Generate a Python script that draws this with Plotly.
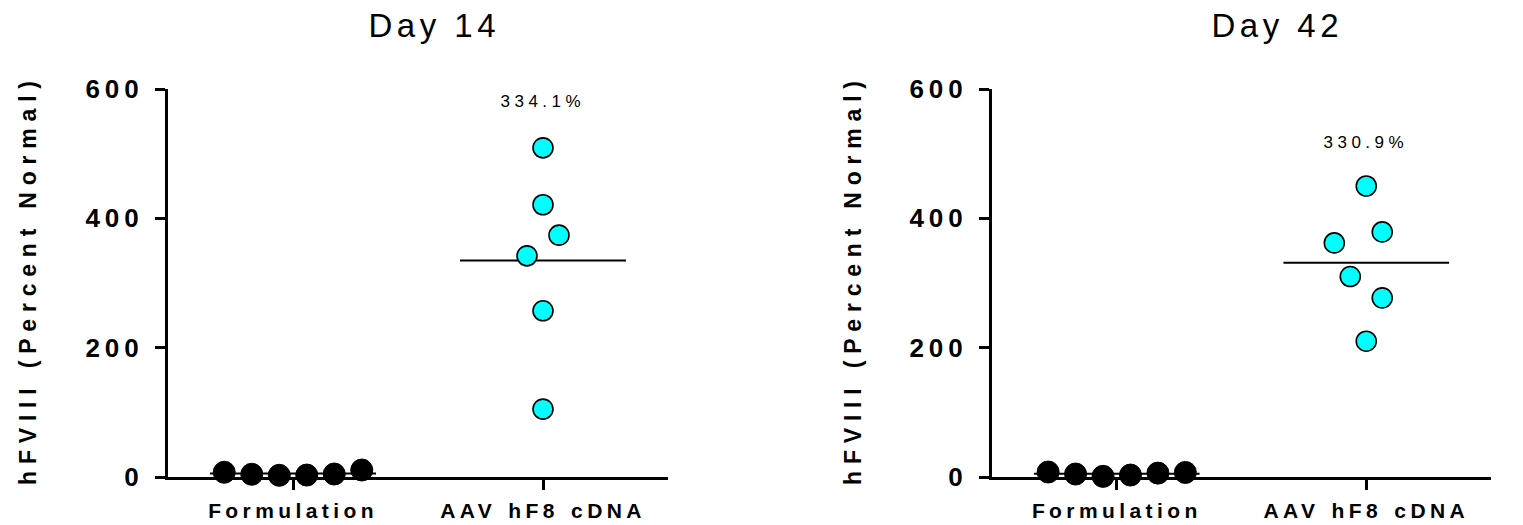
import plotly.graph_objects as go

# ---- data ----
categories = ["Formulation", "AAV hF8 cDNA"]
panel_titles = ["Day 14", "Day 42"]
y_title = "hFVIII (Percent Normal)"
y_ticks = [0, 200, 400, 600]

d14_formulation = [7.3, 4.2, 2.6, 3.0, 4.6, 10.8]
d14_aav = [509, 421, 374, 342, 257, 105]
d42_formulation = [7.7, 4.6, 1.0, 3.0, 6.0, 7.0]
d42_aav = [450, 379, 362, 310, 277, 210]
mean_labels = ["334.1%", "330.9%"]

# horizontal scatter (swarm) offsets in category units, presentation only
swarm_formulation = [-0.275, -0.165, -0.055, 0.055, 0.165, 0.275]
swarm_d14_aav = [0, 0, 0.064, -0.064, 0, 0]
swarm_d42_aav = [0, 0.064, -0.128, -0.064, 0.064, 0]

W, H = 1523, 525
fig = go.Figure()

panels = [
    ("x", "y", d14_formulation, d14_aav, swarm_d14_aav),
    ("x2", "y2", d42_formulation, d42_aav, swarm_d42_aav),
]
HALF = 0.332
for i, (xa, ya, form, aav, sw) in enumerate(panels):
    # mean lines
    for ci, vals in enumerate([form, aav]):
        m = sum(vals) / len(vals)
        fig.add_trace(go.Scatter(x=[ci - HALF, ci + HALF], y=[m, m], mode="lines",
                                 line=dict(color="black", width=2), xaxis=xa, yaxis=ya,
                                 showlegend=False, hoverinfo="skip", cliponaxis=False))
    fig.add_trace(go.Scatter(x=[0 + o for o in swarm_formulation], y=form, mode="markers",
                             marker=dict(color="black", size=22, line=dict(color="black", width=1)),
                             xaxis=xa, yaxis=ya, showlegend=False, cliponaxis=False))
    fig.add_trace(go.Scatter(x=[1 + o for o in sw], y=aav, mode="markers",
                             marker=dict(color="#00FFFF", size=20, line=dict(color="black", width=1.6)),
                             xaxis=xa, yaxis=ya, showlegend=False, cliponaxis=False))

axis_common = dict(showline=True, linewidth=3, linecolor="black", ticks="outside",
                   ticklen=10, tickwidth=3, tickcolor="black", showgrid=False,
                   zeroline=False, layer="below traces")
xfont = dict(family="Liberation Sans, Arial", size=21, color="black", weight="bold")
yfont = dict(family="Liberation Sans, Arial", size=26, color="black", weight="bold")

for i, dom in enumerate([[168 / W, 668 / W], [992 / W, 1491 / W]]):
    sfx = "" if i == 0 else "2"
    fig.update_layout(**{
        "xaxis" + sfx: dict(axis_common, domain=dom, range=[-0.5, 1.5], tickvals=[0, 1],
                            ticktext=categories, tickfont=xfont, ticklabelstandoff=3,
                            anchor="y" + sfx),
        "yaxis" + sfx: dict(axis_common, domain=[0, 1], range=[0, 600], tickvals=y_ticks,
                            tickfont=yfont, ticklabelstandoff=6, anchor="x" + sfx),
    })

annots = []
for i, (t, xc) in enumerate(zip(panel_titles, [434 / W, 1277 / W])):
    annots.append(dict(text=t, x=xc, y=1.163, xref="paper", yref="paper",
                       showarrow=False, xanchor="center", yanchor="middle",
                       font=dict(family="Liberation Sans, Arial", size=33, color="black")))
# y-axis titles
for xc in [28 / W, 853 / W]:
    annots.append(dict(text=y_title, x=xc, y=0.5085, xref="paper", yref="paper",
                       textangle=-90, showarrow=False, xanchor="center", yanchor="middle",
                       font=dict(family="Liberation Sans, Arial", size=23, color="black",
                                 weight="bold")))
for i, (lbl, yv) in enumerate(zip(mean_labels, [581, 517])):
    sfx = "" if i == 0 else "2"
    annots.append(dict(text=lbl, x=1, y=yv, xref="x" + sfx, yref="y" + sfx,
                       showarrow=False, xanchor="center", yanchor="middle",
                       font=dict(family="Liberation Sans, Arial", size=17, color="black")))

fig.update_layout(width=W, height=H, plot_bgcolor="white", paper_bgcolor="white",
                  margin=dict(l=0, r=0, t=89, b=48), annotations=annots, showlegend=False)

post = """
document.body.style.margin = '0';
document.body.style.padding = '0';
var gd = document.getElementById('{plot_id}');
function ls(sel, v){ gd.querySelectorAll(sel).forEach(function(t){ t.style.letterSpacing = v; }); }
function ws(sel, v){ gd.querySelectorAll(sel).forEach(function(t){ t.style.wordSpacing = v; }); }
ls('.xtick text', '4.4px');
ls('.x2tick text', '4.4px');
ws('.xtick text', '2px');
ws('.x2tick text', '2px');
ls('.ytick text', '5px');
ls('.y2tick text', '5px');
gd.querySelectorAll('.annotation-text').forEach(function(t){
  var s = t.textContent;
  if (s.indexOf('hFVIII') >= 0) { t.style.letterSpacing = '6.8px'; }
  else { t.style.letterSpacing = '4.5px'; }
});
"""
fig.write_html("out.html", post_script=post, config={"displayModeBar": False})
